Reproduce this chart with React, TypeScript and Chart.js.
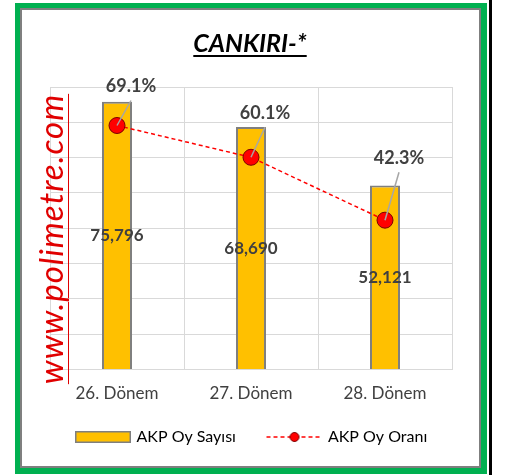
import React, { useEffect, useRef } from "react";
import { Chart, registerables } from "chart.js";

Chart.register(...registerables);

const categories = ["26. Dönem", "27. Dönem", "28. Dönem"];
const voteCounts = [75796, 68690, 52121];
const voteShares = [69.1, 60.1, 42.3];
const countAxisMax = 80000;
const countAxisStep = 10000;
const shareAxisMax = 80;
const seriesNames = ["AKP Oy Sayısı", "AKP Oy Oranı"];

// label placement (offset of each percentage label from its point)
const shareLabelOffsets: [number, number][] = [
  [14, -39],
  [14, -44],
  [14, -62],
];

const FONT = "Lato, 'Noto Sans', sans-serif";
const TEXT_COLOR = "#404040";
const LEGEND_BOX = 73; // layout width of the legend symbol
const LEGEND_IMG_W = 78; // symbol canvas (glyph 56px right-aligned)

function makeBarLegendImg() {
  const c = document.createElement("canvas");
  c.width = LEGEND_IMG_W;
  c.height = 12;
  const g = c.getContext("2d")!;
  const x0 = LEGEND_IMG_W - 56;
  g.fillStyle = "#FFC000";
  g.fillRect(x0, 0, 56, 12);
  g.strokeStyle = "#7F7F7F";
  g.lineWidth = 1.5;
  g.strokeRect(x0 + 0.75, 0.75, 54.5, 10.5);
  return c;
}

function makeLineLegendImg() {
  const c = document.createElement("canvas");
  c.width = LEGEND_IMG_W;
  c.height = 12;
  const g = c.getContext("2d")!;
  const x0 = LEGEND_IMG_W - 56;
  g.strokeStyle = "#FF0000";
  g.lineWidth = 1.5;
  g.setLineDash([4, 3]);
  g.beginPath();
  g.moveTo(x0, 6);
  g.lineTo(x0 + 56, 6);
  g.stroke();
  g.setLineDash([]);
  g.beginPath();
  g.arc(x0 + 28, 6, 4.5, 0, Math.PI * 2);
  g.fillStyle = "#FF0000";
  g.fill();
  g.strokeStyle = "#7A0000";
  g.lineWidth = 1;
  g.stroke();
  return c;
}

const labelPlugin = {
  id: "valueLabels",
  afterDatasetsDraw(chart: any) {
    const ctx = chart.ctx as CanvasRenderingContext2D;
    ctx.save();
    ctx.font = `bold 17px ${FONT}`;
    ctx.fillStyle = TEXT_COLOR;
    ctx.textAlign = "center";
    ctx.textBaseline = "middle";
    const barMeta = chart.getDatasetMeta(0);
    barMeta.data.forEach((el: any, i: number) => {
      const { x, y, base } = el.getProps(["x", "y", "base"], true);
      ctx.fillText(voteCounts[i].toLocaleString("en-US"), x, (y + base) / 2);
    });
    const lineMeta = chart.getDatasetMeta(1);
    ctx.font = `bold 18px ${FONT}`;
    lineMeta.data.forEach((pt: any, i: number) => {
      const lx = pt.x + shareLabelOffsets[i][0];
      const ly = pt.y + shareLabelOffsets[i][1];
      ctx.strokeStyle = "#A6A6A6";
      ctx.lineWidth = 1.5;
      ctx.beginPath();
      ctx.moveTo(pt.x, pt.y);
      ctx.lineTo(lx, ly + 14);
      ctx.stroke();
      ctx.fillText(voteShares[i].toFixed(1) + "%", lx, ly);
    });
    ctx.restore();
  },
};

export default function App() {
  const ref = useRef<HTMLCanvasElement>(null);

  useEffect(() => {
    if (!ref.current) return;
    const barImg = makeBarLegendImg();
    const lineImg = makeLineLegendImg();
    const chart = new Chart(ref.current, {
      type: "bar",
      data: {
        labels: categories,
        datasets: [
          {
            type: "bar",
            label: seriesNames[0],
            data: voteCounts,
            backgroundColor: "#FFC000",
            borderColor: "#7F7F7F",
            borderWidth: 2,
            barPercentage: 0.224,
            categoryPercentage: 1,
            yAxisID: "y",
            order: 2,
          },
          {
            type: "line",
            label: seriesNames[1],
            data: voteShares,
            borderColor: "#FF0000",
            borderWidth: 1.5,
            borderDash: [4, 3],
            pointRadius: 8,
            pointBackgroundColor: "#FF0000",
            pointBorderColor: "#7A0000",
            pointBorderWidth: 1,
            yAxisID: "y1",
            order: 1,
          },
        ] as any,
      },
      options: {
        responsive: false,
        animation: false,
        layout: { padding: { left: 44.5, right: 0, top: 87, bottom: 20 } },
        scales: {
          x: {
            grid: { color: "#D9D9D9", lineWidth: 1, drawTicks: false },
            border: { color: "#D9D9D9" },
            ticks: { padding: 14, color: TEXT_COLOR, font: { family: FONT, size: 17 } },
          },
          y: {
            min: 0,
            max: countAxisMax,
            ticks: { display: false, stepSize: countAxisStep },
            grid: { color: "#D9D9D9", lineWidth: 1, drawTicks: false },
            border: { display: false },
            afterFit: (s: any) => { s.width = 5.5; },
          },
          y1: {
            position: "right",
            min: 0,
            max: shareAxisMax,
            ticks: { display: false },
            grid: { display: false, drawTicks: false },
            border: { display: false },
            afterFit: (s: any) => { s.width = 55; },
          },
        },
        plugins: {
          tooltip: { enabled: false },
          title: { display: false },
          legend: {
            position: "bottom",
            align: "start",
            labels: {
              usePointStyle: true,
              pointStyleWidth: LEGEND_BOX,
              padding: 11,
              color: TEXT_COLOR,
              font: { family: FONT, size: 16 },
              generateLabels: () => [
                { text: seriesNames[0], pointStyle: barImg, hidden: false, datasetIndex: 0, lineWidth: 0 },
                { text: seriesNames[1], pointStyle: lineImg, hidden: false, datasetIndex: 1, lineWidth: 0 },
              ] as any,
            },
          },
        },
      },
      plugins: [labelPlugin],
    });
    return () => chart.destroy();
  }, []);

  return (
    <div style={{ position: "fixed", left: 0, top: 0, width: 507, height: 475, background: "#fff", overflow: "hidden" }}>
      <div
        style={{
          position: "absolute", left: 15, top: 3, width: 472, height: 471, boxSizing: "border-box",
          borderStyle: "solid", borderColor: "#00B050", borderWidth: "5px 6px 6px 5px",
        }}
      />
      <div
        style={{
          position: "absolute", left: 20, top: 8, width: 461, height: 460, boxSizing: "border-box",
          border: "2px solid #7F7F7F",
        }}
      />
      <div style={{ position: "absolute", left: 489, top: 0, width: 3, height: 475, background: "#000" }} />
      <canvas ref={ref} width={507} height={475} style={{ position: "absolute", left: 0, top: 0 }} />
      <div
        style={{
          position: "absolute", left: 0, top: 27, width: 500, height: 30, lineHeight: "30px",
          textAlign: "center", font: `italic bold 25px ${FONT}`, color: "#000",
          textDecoration: "underline", textDecorationThickness: "2px", textUnderlineOffset: "3px",
        }}
      >
        CANKIRI-*
      </div>
      <div
        style={{
          position: "absolute", left: 48 - 160, top: 238.5 - 18, width: 320, height: 36, lineHeight: "36px",
          transform: "rotate(-90deg)", textAlign: "center", whiteSpace: "nowrap",
          font: `italic 33px ${FONT}`, letterSpacing: "1px", color: "#E00000",
          textDecoration: "underline", textDecorationThickness: "1px", textUnderlineOffset: "5px",
        }}
      >
        www.polimetre.com
      </div>
    </div>
  );
}
